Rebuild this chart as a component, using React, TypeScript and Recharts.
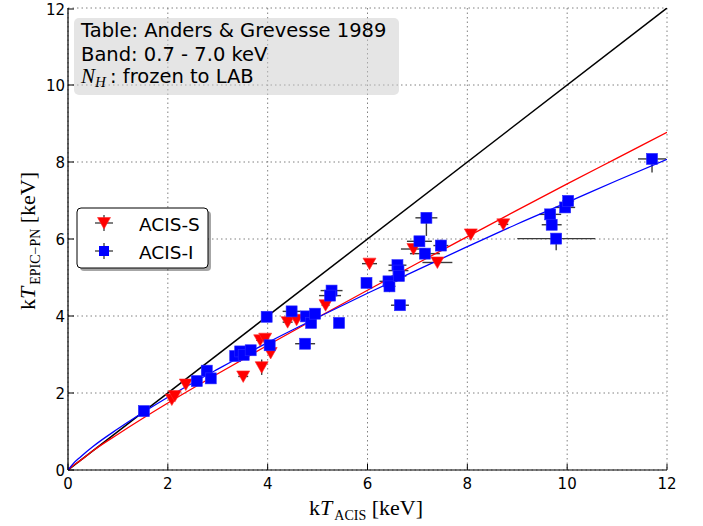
import React from 'react';
import { ScatterChart, Scatter, XAxis, YAxis, CartesianGrid, ErrorBar } from 'recharts';

// ---------- data ----------
const axisTicks = [0, 2, 4, 6, 8, 10, 12];
const axisTickLabels = ['0', '2', '4', '6', '8', '10', '12'];

// ACIS-S (red down-triangles)
const acisSX = [2.08, 2.14, 2.36, 3.51, 3.88, 3.85, 3.95, 4.06, 4.40, 4.58, 5.16, 6.04, 6.92, 7.40, 8.07, 8.72];
const acisSY = [1.83, 1.92, 2.22, 2.43, 2.67, 3.37, 3.41, 3.04, 3.84, 3.90, 4.28, 5.36, 5.74, 5.39, 6.12, 6.38];
const acisSXErr = [0.05, 0.05, 0.05, 0.1, 0.05, 0.08, 0.08, 0.05, 0.1, 0.06, 0.08, 0.15, 0.25, 0.3, 0.06, 0.1];
const acisSYErr = [0.1, 0.05, 0.05, 0.1, 0.2, 0.05, 0.05, 0.08, 0.05, 0.05, 0.06, 0.06, 0.1, 0.06, 0.05, 0.05];

// ACIS-I (blue squares)
const acisIX = [1.52, 2.58, 2.78, 2.86, 3.35, 3.45, 3.52, 3.66, 3.98, 4.04, 4.48, 4.77, 4.87, 4.95, 4.75, 5.43, 5.28, 5.25, 5.98, 6.42, 6.44, 6.60, 6.62, 6.63, 6.65, 7.04, 7.15, 7.18, 7.47, 9.66, 9.69, 9.78, 9.96, 10.02, 11.70];
const acisIY = [1.53, 2.31, 2.58, 2.38, 2.96, 3.08, 2.99, 3.11, 3.98, 3.24, 4.12, 3.99, 3.82, 4.06, 3.28, 3.82, 4.66, 4.53, 4.86, 4.90, 4.77, 5.32, 5.18, 5.04, 4.28, 5.94, 5.62, 6.55, 5.83, 6.64, 6.37, 6.01, 6.82, 6.99, 8.08];
const acisIXErr = [0.06, 0.05, 0.05, 0.05, 0.08, 0.08, 0.08, 0.06, 0.06, 0.08, 0.18, 0.1, 0.1, 0.1, 0.2, 0.06, 0.22, 0.22, 0.08, 0.18, 0.12, 0.18, 0.2, 0.15, 0.18, 0.25, 0.3, 0.22, 0.15, 0.22, 0.2, 0.78, 0.2, 0.12, 0.28];
const acisIYErr: (number | number[])[] = [0.06, 0.05, 0.05, 0.05, 0.05, 0.05, 0.05, 0.05, 0.06, 0.1, 0.08, 0.06, 0.08, 0.06, 0.06, 0.06, 0.08, 0.1, 0.08, 0.1, 0.15, 0.08, 0.08, 0.08, 0.08, 0.1, 0.1, [0.47, 0.05], 0.15, 0.1, 0.08, [0.3, 0.05], 0.1, 0.08, [0.35, 0.05]];

// fitted relations
const fitX = [0, 0.1, 0.25, 0.5, 1, 2, 3, 4, 5, 6, 7, 8, 9, 10, 11, 12];
const fitSY = [0, 0.11, 0.25, 0.5, 0.93, 1.74, 2.5, 3.24, 3.96, 4.67, 5.37, 6.06, 6.75, 7.43, 8.1, 8.77];
const fitIY = [0, 0.16, 0.34, 0.61, 1.07, 1.89, 2.62, 3.31, 3.96, 4.59, 5.2, 5.8, 6.39, 6.95, 7.52, 8.07];
const unityX = [0, 12];
const unityY = [0, 12];

const acisS = acisSX.map((x, i) => ({ x, y: acisSY[i], ex: acisSXErr[i], ey: acisSYErr[i] }));
const acisI = acisIX.map((x, i) => ({ x, y: acisIY[i], ex: acisIXErr[i], ey: acisIYErr[i] }));
const fitS = fitX.map((x, i) => ({ x, y: fitSY[i] }));
const fitI = fitX.map((x, i) => ({ x, y: fitIY[i] }));
const unity = unityX.map((x, i) => ({ x, y: unityY[i] }));

// ---------- styling helpers ----------
const SANS = 'DejaVu Sans';
const SERIF = 'Liberation Serif';
const TICK_LEN = 6;
const labelFor = (v: number) => axisTickLabels[axisTicks.indexOf(v)] ?? String(v);

const BottomTick = (p: any) => (
  <g>
    <line x1={p.x} y1={p.y} x2={p.x} y2={p.y - TICK_LEN} stroke="#000" strokeWidth={1} />
    <text x={p.x} y={p.y + 19} textAnchor="middle" fontFamily={SANS} fontSize={15} fill="#000">
      {labelFor(p.payload.value)}
    </text>
  </g>
);
const TopTick = (p: any) => (
  <line x1={p.x} y1={p.y} x2={p.x} y2={p.y + TICK_LEN} stroke="#000" strokeWidth={1} />
);
const LeftTick = (p: any) => (
  <g>
    <line x1={p.x} y1={p.y} x2={p.x + TICK_LEN} y2={p.y} stroke="#000" strokeWidth={1} />
    <text x={p.x - 3} y={p.y + 5.5} textAnchor="end" fontFamily={SANS} fontSize={15} fill="#000">
      {labelFor(p.payload.value)}
    </text>
  </g>
);
const RightTick = (p: any) => (
  <line x1={p.x} y1={p.y} x2={p.x - TICK_LEN} y2={p.y} stroke="#000" strokeWidth={1} />
);

const Square = (p: any) => (
  <rect x={p.cx - 5.5} y={p.cy - 5.5} width={11} height={11} fill="#0000ff" stroke="#2a2aff" strokeWidth={0.6} />
);
const DownTri = (p: any) => (
  <polygon
    points={`${p.cx - 6.5},${p.cy - 5.5} ${p.cx + 6.5},${p.cy - 5.5} ${p.cx},${p.cy + 6}`}
    fill="#ff0000"
    stroke="#ff2a2a"
    strokeWidth={0.6}
  />
);
const NoDot = () => <g />;

const ERR = '#3a3a3a';

export default function App() {
  return (
    <div style={{ position: 'absolute', left: 0, top: 0, width: 703, height: 526, background: '#fff' }}>
      <ScatterChart width={703} height={526} margin={{ top: 8, right: 36, bottom: 0, left: 0 }}>
        <CartesianGrid stroke="#808080" strokeDasharray="1.5 3" strokeWidth={1} />
        <XAxis
          dataKey="x"
          type="number"
          domain={[0, 12]}
          ticks={axisTicks}
          height={56}
          tickSize={0}
          tickMargin={0}
          tickLine={false}
          axisLine={{ stroke: '#000', strokeWidth: 1.2 }}
          tick={<BottomTick />}
          allowDataOverflow
        />
        <XAxis
          xAxisId="top"
          orientation="top"
          dataKey="x"
          type="number"
          domain={[0, 12]}
          ticks={axisTicks}
          height={0}
          tickSize={0}
          tickMargin={0}
          tickLine={false}
          axisLine={{ stroke: '#000', strokeWidth: 1.2 }}
          tick={<TopTick />}
          allowDataOverflow
        />
        <YAxis
          dataKey="y"
          type="number"
          domain={[0, 12]}
          ticks={axisTicks}
          width={68}
          tickSize={0}
          tickMargin={0}
          tickLine={false}
          axisLine={{ stroke: '#000', strokeWidth: 1.2 }}
          tick={<LeftTick />}
          allowDataOverflow
        />
        <YAxis
          yAxisId="right"
          orientation="right"
          dataKey="y"
          type="number"
          domain={[0, 12]}
          ticks={axisTicks}
          width={0}
          tickSize={0}
          tickMargin={0}
          tickLine={false}
          axisLine={{ stroke: '#000', strokeWidth: 1.2 }}
          tick={<RightTick />}
          allowDataOverflow
        />

        <Scatter data={unity} dataKey="y" line={{ stroke: '#000', strokeWidth: 1.5 }} shape={NoDot} isAnimationActive={false} />
        <Scatter data={fitS} dataKey="y" line={{ stroke: '#ff0000', strokeWidth: 1.3 }} lineJointType="monotoneX" shape={NoDot} isAnimationActive={false} />
        <Scatter data={fitI} dataKey="y" line={{ stroke: '#0000ff', strokeWidth: 1.3 }} lineJointType="monotoneX" shape={NoDot} isAnimationActive={false} />

        <Scatter data={acisS} dataKey="y" shape={DownTri} isAnimationActive={false}>
          <ErrorBar dataKey="ex" direction="x" width={0} stroke={ERR} strokeWidth={1.4} />
          <ErrorBar dataKey="ey" direction="y" width={0} stroke={ERR} strokeWidth={1.4} />
        </Scatter>
        <Scatter data={acisI} dataKey="y" shape={Square} isAnimationActive={false}>
          <ErrorBar dataKey="ex" direction="x" width={0} stroke={ERR} strokeWidth={1.4} />
          <ErrorBar dataKey="ey" direction="y" width={0} stroke={ERR} strokeWidth={1.4} />
        </Scatter>
      </ScatterChart>

      <svg width={703} height={526} style={{ position: 'absolute', left: 0, top: 0, pointerEvents: 'none' }}>
        {/* info box */}
        <rect x={74} y={18} width={325} height={77} rx={5} fill="#cbcbcb" fillOpacity={0.5} />
        <text x={81} y={37} fontFamily={SANS} fontSize={19.5} fill="#000">Table: Anders &amp; Grevesse 1989</text>
        <text x={81} y={61} fontFamily={SANS} fontSize={19.5} fill="#000">Band: 0.7 - 7.0 keV</text>
        <text x={81} y={83} fill="#000">
          <tspan fontFamily={SERIF} fontStyle="italic" fontSize={21}>N</tspan>
          <tspan fontFamily={SERIF} fontStyle="italic" fontSize={15} dy={4}>H</tspan>
          <tspan x={110} dy={-4} fontFamily={SANS} fontSize={19.5}>: frozen to LAB</tspan>
        </text>

        {/* legend */}
        <rect x={80} y={211} width={131} height={60} rx={4} fill="#000" fillOpacity={0.35} />
        <rect x={77} y={208} width={131} height={60} rx={4} fill="#fff" stroke="#000" strokeWidth={1} />
        <line x1={95} y1={223} x2={113} y2={223} stroke="#555" strokeWidth={1.5} />
        <line x1={104} y1={215} x2={104} y2={231} stroke="#555" strokeWidth={1.5} />
        <DownTri cx={104} cy={223} />
        <text x={139} y={231} fontFamily={SANS} fontSize={18.5} fill="#000">ACIS-S</text>
        <line x1={95} y1={251} x2={113} y2={251} stroke="#555" strokeWidth={1.5} />
        <line x1={104} y1={243} x2={104} y2={259} stroke="#555" strokeWidth={1.5} />
        <rect x={99} y={246} width={10} height={10} fill="#0000ff" />
        <text x={139} y={259} fontFamily={SANS} fontSize={18.5} fill="#000">ACIS-I</text>

        {/* axis labels */}
        <text x={366} y={515} textAnchor="middle" fontFamily={SERIF} fontSize={22} fill="#000">
          k<tspan fontStyle="italic">T</tspan>
          <tspan fontSize={14} dx={2} dy={5}>ACIS</tspan>
          <tspan dy={-5}> [keV]</tspan>
        </text>
        <text x={35} y={241} transform="rotate(-90, 35, 241)" textAnchor="middle" fontFamily={SERIF} fontSize={22} fill="#000">
          k<tspan fontStyle="italic">T</tspan>
          <tspan fontSize={14} dx={2} dy={5}>EPIC−PN</tspan>
          <tspan dy={-5}> [keV]</tspan>
        </text>
      </svg>
    </div>
  );
}
